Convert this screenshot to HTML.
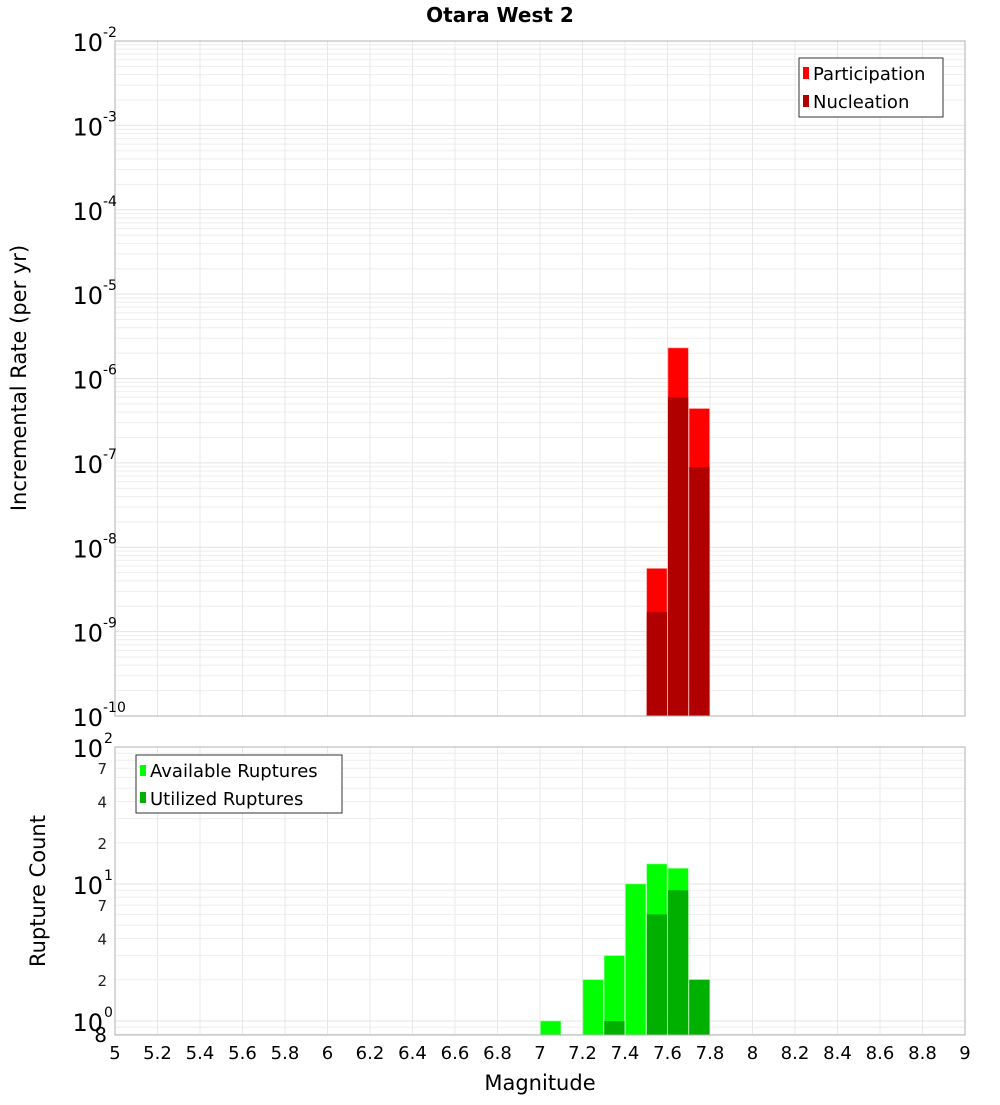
<!DOCTYPE html>
<html><head><meta charset="utf-8"><style>
body{margin:0;background:#fff;}
svg{font-family:"DejaVu Sans","Liberation Sans",sans-serif;}
</style></head><body>
<svg id="chart" width="1000" height="1100" xmlns="http://www.w3.org/2000/svg">
<rect width="1000" height="1100" fill="#fff"/>
<text x="500" y="22" text-anchor="middle" font-size="20" font-weight="bold">Otara West 2</text>
<g id="topg"></g>
<g id="botg"></g>
<text x="540" y="1090" text-anchor="middle" font-size="21">Magnitude</text>
<text transform="translate(26,378) rotate(-90)" text-anchor="middle" font-size="21">Incremental Rate (per yr)</text>
<text transform="translate(45,891) rotate(-90)" text-anchor="middle" font-size="21">Rupture Count</text>
</svg>
<script>
const mags = [7.55, 7.65, 7.75];
const participation = [5.6e-9, 2.3e-6, 4.4e-7];
const nucleation = [1.7e-9, 6.0e-7, 8.9e-8];
const countMags = [7.05, 7.25, 7.35, 7.45, 7.55, 7.65, 7.75];
const available = [1, 2, 3, 10, 14, 13, 2];
const utilizedMags = [7.35, 7.55, 7.65, 7.75];
const utilized = [1, 6, 9, 2];
const xTicks = ["5","5.2","5.4","5.6","5.8","6","6.2","6.4","6.6","6.8","7","7.2","7.4","7.6","7.8","8","8.2","8.4","8.6","8.8","9"];
const topExps = [-2,-3,-4,-5,-6,-7,-8,-9,-10];
const botExps = [2,1,0];
const botMinorLabels = [2,4,7];

const NS="http://www.w3.org/2000/svg";
const X0=115,X1=965,XMIN=5,XMAX=9;
const xs=v=>X0+(v-XMIN)/(XMAX-XMIN)*(X1-X0);
const TY0=41,TY1=716;
const ty=v=>TY0+(-2-Math.log10(v))/8*(TY1-TY0);
const BY0=747,BY1=1035,BDEC=137;
const by=v=>BY0+(2-Math.log10(v))*BDEC;
const BW=(X1-X0)/40;
function mk(parent,tag,attrs,text){const e=document.createElementNS(NS,tag);for(const k in attrs)e.setAttribute(k,attrs[k]);if(text!==undefined)e.textContent=text;parent.appendChild(e);return e;}
const gTop=document.getElementById('topg'),gBot=document.getElementById('botg');

for(let d=-10;d<-2;d++){for(let m=1;m<10;m++){const y=ty(m*Math.pow(10,d));if(y<TY0||y>TY1)continue;
const l=mk(gTop,'line',{x1:X0,x2:X1,y1:y,y2:y,stroke:m==1?'#e4e4e4':'#eeeeee','stroke-width':1});

}}
xTicks.forEach(t=>{const x=xs(+t);
const l=mk(gTop,'line',{x1:x,x2:x,y1:TY0,y2:TY1,stroke:'#e8e8e8'});


const l2=mk(gBot,'line',{x1:x,x2:x,y1:BY0,y2:BY1,stroke:'#e8e8e8'});

});
mags.forEach((m,i)=>{
const x=xs(m)-BW/2;
const r=mk(gTop,'rect',{x:x+0.5,y:ty(participation[i]),width:BW-1,height:TY1-ty(participation[i]),fill:'#ff0000',stroke:'#ff8080','stroke-width':0.6});


const n=mk(gTop,'rect',{x:x+0.5,y:ty(nucleation[i]),width:BW-1,height:TY1-ty(nucleation[i]),fill:'#b00000'});


});
const tf=mk(gTop,'rect',{x:X0,y:TY0,width:X1-X0,height:TY1-TY0,fill:'none',stroke:'#b0b0b0'});


topExps.forEach(e=>{const y=ty(Math.pow(10,e));
const t=mk(gTop,'text',{x:103,y:y+10,'text-anchor':'end','font-size':24},'10');


const s=mk(gTop,'text',{x:103,y:y-4,'font-size':14},String(e));

});
const lg=mk(gTop,'g',{});


mk(lg,'rect',{x:799,y:58,width:144,height:59,fill:'#fff',stroke:'#333'});
mk(lg,'rect',{x:803,y:67,width:6,height:12,fill:'#ff0000'});
mk(lg,'text',{x:813,y:80,'font-size':18},'Participation');
mk(lg,'rect',{x:803,y:95,width:6,height:12,fill:'#b00000'});
mk(lg,'text',{x:813,y:108,'font-size':18},'Nucleation');

for(let d=-1;d<2;d++){for(let m=1;m<10;m++){const y=by(m*Math.pow(10,d));if(y<BY0||y>BY1)continue;
const l=mk(gBot,'line',{x1:X0,x2:X1,y1:y,y2:y,stroke:m==1?'#e4e4e4':'#eeeeee'});

}}
countMags.forEach((m,i)=>{const x=xs(m)-BW/2;
const r=mk(gBot,'rect',{x:x+0.5,y:by(available[i]),width:BW-1,height:BY1-by(available[i]),fill:'#00ff00',stroke:'#80ff80','stroke-width':0.6});

});
utilizedMags.forEach((m,i)=>{const x=xs(m)-BW/2;
const r=mk(gBot,'rect',{x:x+0.5,y:by(utilized[i]),width:BW-1,height:BY1-by(utilized[i]),fill:'#00b000'});

});
const bf=mk(gBot,'rect',{x:X0,y:BY0,width:X1-X0,height:BY1-BY0,fill:'none',stroke:'#b0b0b0'});


botExps.forEach(e=>{const y=by(Math.pow(10,e));
const t=mk(gBot,'text',{x:103,y:y+10,'text-anchor':'end','font-size':24},'10');


const s=mk(gBot,'text',{x:104,y:y-4,'font-size':14},String(e));

});
[0,1].forEach(d=>botMinorLabels.forEach(m=>{const y=by(m*Math.pow(10,d));
const t=mk(gBot,'text',{x:107,y:y+6,'text-anchor':'end','font-size':15,fill:'#222'},String(m));

}));
const e8=mk(gBot,'text',{x:107,y:1042,'text-anchor':'end','font-size':20},'8');


xTicks.forEach(t=>{const tx=mk(gBot,'text',{x:xs(+t),y:1059,'text-anchor':'middle','font-size':18},t);

});
const lg2=mk(gBot,'g',{});


mk(lg2,'rect',{x:136,y:755,width:206,height:58,fill:'#fff',stroke:'#333'});
mk(lg2,'rect',{x:140,y:765,width:6,height:11,fill:'#00ff00'});
mk(lg2,'text',{x:150,y:777,'font-size':18},'Available Ruptures');
mk(lg2,'rect',{x:140,y:792,width:6,height:11,fill:'#00b000'});
mk(lg2,'text',{x:150,y:805,'font-size':18},'Utilized Ruptures');
</script>
</body></html>
